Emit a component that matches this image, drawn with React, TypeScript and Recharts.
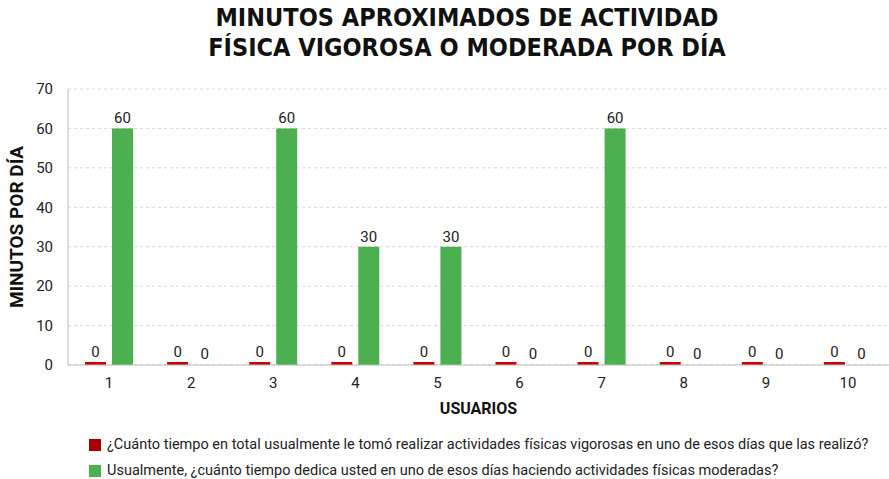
import { BarChart, Bar, XAxis, YAxis, CartesianGrid, LabelList, Label } from "recharts";

const usuarios = ["1", "2", "3", "4", "5", "6", "7", "8", "9", "10"];
const vigorosa = [0, 0, 0, 0, 0, 0, 0, 0, 0, 0];
const moderada = [60, 0, 60, 30, 30, 0, 60, 0, 0, 0];
const yTicks = [0, 10, 20, 30, 40, 50, 60, 70];

const seriesNames = [
  "¿Cuánto tiempo en total usualmente le tomó realizar actividades físicas vigorosas en uno de esos días que las realizó?",
  "Usualmente, ¿cuánto tiempo dedica usted en uno de esos días haciendo actividades físicas moderadas?",
];
const RED = "#cc0000";
const GREEN = "#4caf50";

const data = usuarios.map((u, i) => ({ usuario: u, vigorosa: vigorosa[i], moderada: moderada[i] }));

const font = "Roboto, 'Noto Sans', sans-serif";

// zero-valued green bars keep their label but draw no mark
const GreenShape = (p: any) =>
  p.value && (Array.isArray(p.value) ? p.value[1] - p.value[0] : p.value) > 0 ? (
    <rect x={p.x} y={p.y} width={p.width} height={p.height} fill={GREEN} />
  ) : (
    <g />
  );

export default function App() {
  return (
    <div style={{ position: "absolute", left: 0, top: 0, width: 889, height: 479, background: "#fff", fontFamily: font }}>
      <div
        style={{
          position: "absolute", left: 0, top: 3, width: 934, textAlign: "center",
          fontWeight: 700, fontSize: 25, lineHeight: "30px", color: "#111",
          fontFamily: "'DejaVu Sans Condensed', 'DejaVu Sans', sans-serif",
        }}
      >
        MINUTOS APROXIMADOS DE ACTIVIDAD<br />FÍSICA VIGOROSA O MODERADA POR DÍA
      </div>
      <BarChart
        width={889}
        height={479}
        data={data}
        margin={{ top: 89, right: 0, left: 28, bottom: 74 }}
        barGap={6}
        barSize={21}
      >
        <CartesianGrid vertical={false} stroke="#d8d8d8" strokeDasharray="3 3" />
        <XAxis
          dataKey="usuario"
          axisLine={{ stroke: "#bdbdbd" }}
          tickLine={false}
          tickSize={0}
          tickMargin={12}
          height={40}
          tick={{ fontSize: 15, fill: "#222", fontFamily: font }}
        >
          <Label value="USUARIOS" position="insideBottom" offset={-9} style={{ fontSize: 16, fontWeight: 700, fill: "#111", fontFamily: font }} />
        </XAxis>
        <YAxis
          domain={[0, 70]}
          ticks={yTicks}
          width={40}
          axisLine={{ stroke: "#bdbdbd" }}
          tickLine={false}
          tickSize={0}
          tickMargin={15}
          tick={{ fontSize: 15, fill: "#222", fontFamily: font }}
        >
          <Label
            value="MINUTOS POR DÍA"
            angle={-90}
            position="insideLeft"
            offset={-12}
            style={{ fontSize: 19, fontWeight: 700, fill: "#111", fontFamily: font, textAnchor: "middle" }}
          />
        </YAxis>
        <Bar dataKey="vigorosa" name={seriesNames[0]} fill={RED} minPointSize={3} isAnimationActive={false}>
          <LabelList dataKey="vigorosa" position="top" offset={5} style={{ fontSize: 15, fill: "#222", fontFamily: font }} />
        </Bar>
        <Bar dataKey="moderada" name={seriesNames[1]} fill={GREEN} minPointSize={1} shape={GreenShape} isAnimationActive={false}>
          <LabelList dataKey="moderada" position="top" offset={5} style={{ fontSize: 15, fill: "#222", fontFamily: font }} />
        </Bar>
      </BarChart>
      <div style={{ position: "absolute", left: 89, top: 432, fontSize: 14.5, color: "#222", lineHeight: "26px" }}>
        {seriesNames.map((n, i) => (
          <div key={n} style={{ display: "flex", alignItems: "center" }}>
            <span style={{ display: "inline-block", width: 12, height: 12, background: i === 0 ? "#a80000" : GREEN, marginRight: 6 }} />
            {n}
          </div>
        ))}
      </div>
    </div>
  );
}
